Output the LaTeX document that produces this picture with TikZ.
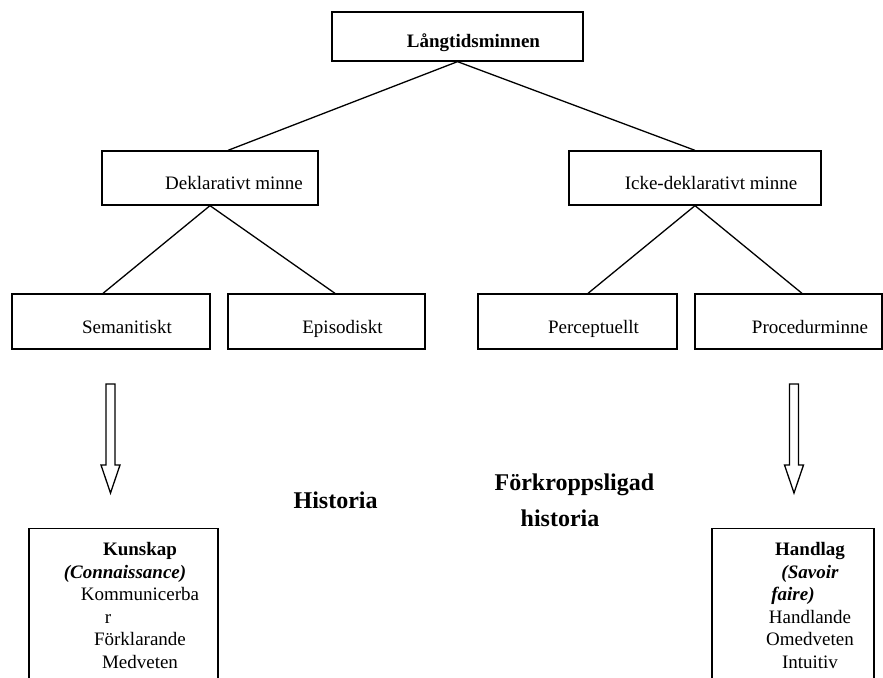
\documentclass[tikz,border=0pt]{standalone}
\usepackage{fontspec}
\setmainfont{Liberation Serif}
\usepackage{tikz}
\usetikzlibrary{calc}
\usetikzlibrary{positioning}

\tikzset{
	ruta/.style={draw, line width=1.3pt, minimum height=55pt, inner sep=0pt, font=\fontsize{19}{22.5}\selectfont},
	lista/.style={align=center, inner sep=0pt, anchor=north, font=\fontsize{19}{22.5}\selectfont},
	rubrik/.style={align=left, inner sep=0pt, anchor=base west, font=\fontsize{24}{36}\selectfont\bfseries}
}
% text lite till hoger och nere i rutan
\newcommand{\rtext}[2][32pt]{\rule[-5pt]{0pt}{33pt}\hspace*{#1}#2}

\begin{document}
\begin{tikzpicture}[x=1pt,y=-1pt,line width=1.3pt]
		\clip (0,0) rectangle (883,677);
		% minnen
		\node[ruta, minimum width=251pt, minimum height=49pt] (lang) at (457.5,36.5) {\rtext{\textbf{Långtidsminnen}}};
		\node[ruta, minimum width=216pt, minimum height=54pt] (dekl) at (210,178) {\rtext[48pt]{Deklarativt minne}};
		\node[ruta, minimum width=252pt, minimum height=54pt] (icke) at (695,178) {\rtext{Icke-deklarativt minne}};
		\node[ruta, minimum width=198pt] (sem) at (111,321.5) {\rtext{Semanitiskt}};
		\node[ruta, minimum width=197pt] (epi) at (326.5,321.5) {\rtext{Episodiskt}};
		\node[ruta, minimum width=199pt] (perc) at (577.5,321.5) {\rtext{Perceptuellt}};
		\node[ruta, minimum width=187pt] (proc) at (788.5,321.5) {\rtext[43pt]{Procedurminne}};
		% linjer
		\draw (lang.south) -- ($(dekl.north)+(18,0)$);
		\draw (lang.south) -- (icke.north);
		\draw (dekl.south) -- ($(sem.north)+(-8,0)$);
		\draw (dekl.south) -- ($(epi.north)+(8.5,0)$);
		\draw (icke.south) -- ($(perc.north)+(10.5,0)$);
		\draw (icke.south) -- ($(proc.north)+(13.5,0)$);
		% pilar
		\foreach \ax in {110.5,794}
			\draw[fill=white] (\ax-4.5,384) -- (\ax-4.5,465) -- (\ax-9.5,465) -- (\ax,493)
				-- (\ax+9.5,465) -- (\ax+4.5,465) -- (\ax+4.5,384) -- cycle;
		% historia
		\node[rubrik] (hist) at (293,508) {Historia};
		\node[rubrik] (fork) at (494,526) {Förkroppsligad\\\hspace*{26pt}historia};
		% kunskap och handlag
		\node[draw, line width=1.3pt, minimum width=189pt, minimum height=200pt, anchor=north] (kunsk) at (123.5,528) {};
		\node[lista] (kunsktxt) at (140,542) {\textbf{Kunskap}\\\textbf{\textit{(Connaissance)}}\hspace*{30pt}\mbox{}\\Kommunicerba\\r\hspace*{64pt}\mbox{}\\Förklarande\\Medveten};
		\node[draw, line width=1.3pt, minimum width=162pt, minimum height=200pt, anchor=north] (handl) at (793,528) {};
		\node[lista] (handltxt) at (810,542) {\textbf{Handlag}\\\textbf{\textit{(Savoir}}\\\textbf{\textit{faire)}}\hspace*{34pt}\mbox{}\\Handlande\\Omedveten\\Intuitiv};
	\end{tikzpicture}
\end{document}
